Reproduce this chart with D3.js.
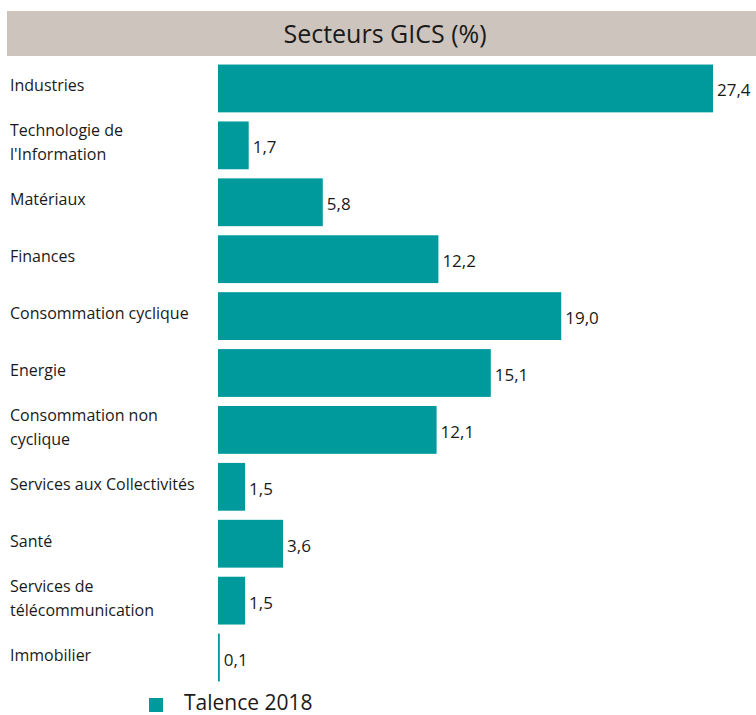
<!DOCTYPE html>
<html>
<head>
<meta charset="utf-8">
<script src="https://cdn.jsdelivr.net/npm/d3@7"></script>
<style>
body { margin: 0; background: #fff; }
text { font-family: "Open Sans", "Noto Sans", sans-serif; fill: #1a1a1a; }
</style>
</head>
<body>
<div id="chart-area"></div>
<script>
var categories = ["Industries", "Technologie de|l'Information", "Matériaux", "Finances",
	"Consommation cyclique", "Energie", "Consommation non|cyclique", "Services aux Collectivités",
	"Santé", "Services de|télécommunication", "Immobilier"];
var values = [27.4, 1.7, 5.8, 12.2, 19.0, 15.1, 12.1, 1.5, 3.6, 1.5, 0.1];
var seriesName = "Talence 2018";
var title = "Secteurs GICS (%)";

var width = 756;
var height = 715;
var barColor = "#00999c";

var svg = d3.select("#chart-area").append("svg")
	.attr("width", width)
	.attr("height", height);

// title band
svg.append("rect")
	.attr("x", 7).attr("y", 11)
	.attr("width", width - 7).attr("height", 45)
	.attr("fill", "#cec4be");

svg.append("text")
	.attr("x", 385).attr("y", 43)
	.attr("text-anchor", "middle")
	.attr("font-size", "25px")
	.text(title);

var x = d3.scaleLinear()
	.domain([0, 27.4])
	.range([218, 713]);

var y = d3.scaleBand()
	.domain(categories)
	.range([60, 686])
	.paddingInner(0.16)
	.paddingOuter(0.08);

var data = categories.map((c, i) => { return {name: c, value: values[i]}; });

svg.selectAll("rect.bar").data(data).enter()
	.append("rect")
		.attr("class", "bar")
		.attr("x", x(0))
		.attr("y", (d) => y(d.name))
		.attr("width", (d) => x(d.value) - x(0))
		.attr("height", y.bandwidth())
		.attr("fill", barColor);

// value labels
svg.selectAll("text.val").data(data).enter()
	.append("text")
		.attr("class", "val")
		.attr("x", (d) => x(d.value) + 4)
		.attr("y", (d) => y(d.name) + y.bandwidth() / 2 + 8)
		.attr("font-size", "17px")
		.text((d) => d.value.toFixed(1).replace(".", ","));

// category labels
var labels = svg.selectAll("text.cat").data(data).enter()
	.append("text")
		.attr("class", "cat")
		.attr("x", 10)
		.attr("y", (d) => {
			var n = d.name.split("|").length;
			return y(d.name) + y.bandwidth() / 2 + 3 - (n - 1) * 12;
		})
		.attr("font-size", "16px");

labels.selectAll("tspan")
	.data((d) => d.name.split("|"))
	.enter().append("tspan")
		.attr("x", 10)
		.attr("dy", (d, i) => i === 0 ? 0 : 24)
		.text((d) => d);

// legend
svg.append("rect")
	.attr("x", 149).attr("y", 698)
	.attr("width", 14).attr("height", 14)
	.attr("fill", barColor);

svg.append("text")
	.attr("x", 184).attr("y", 710)
	.attr("font-size", "21px")
	.text(seriesName);
</script>
</body>
</html>
